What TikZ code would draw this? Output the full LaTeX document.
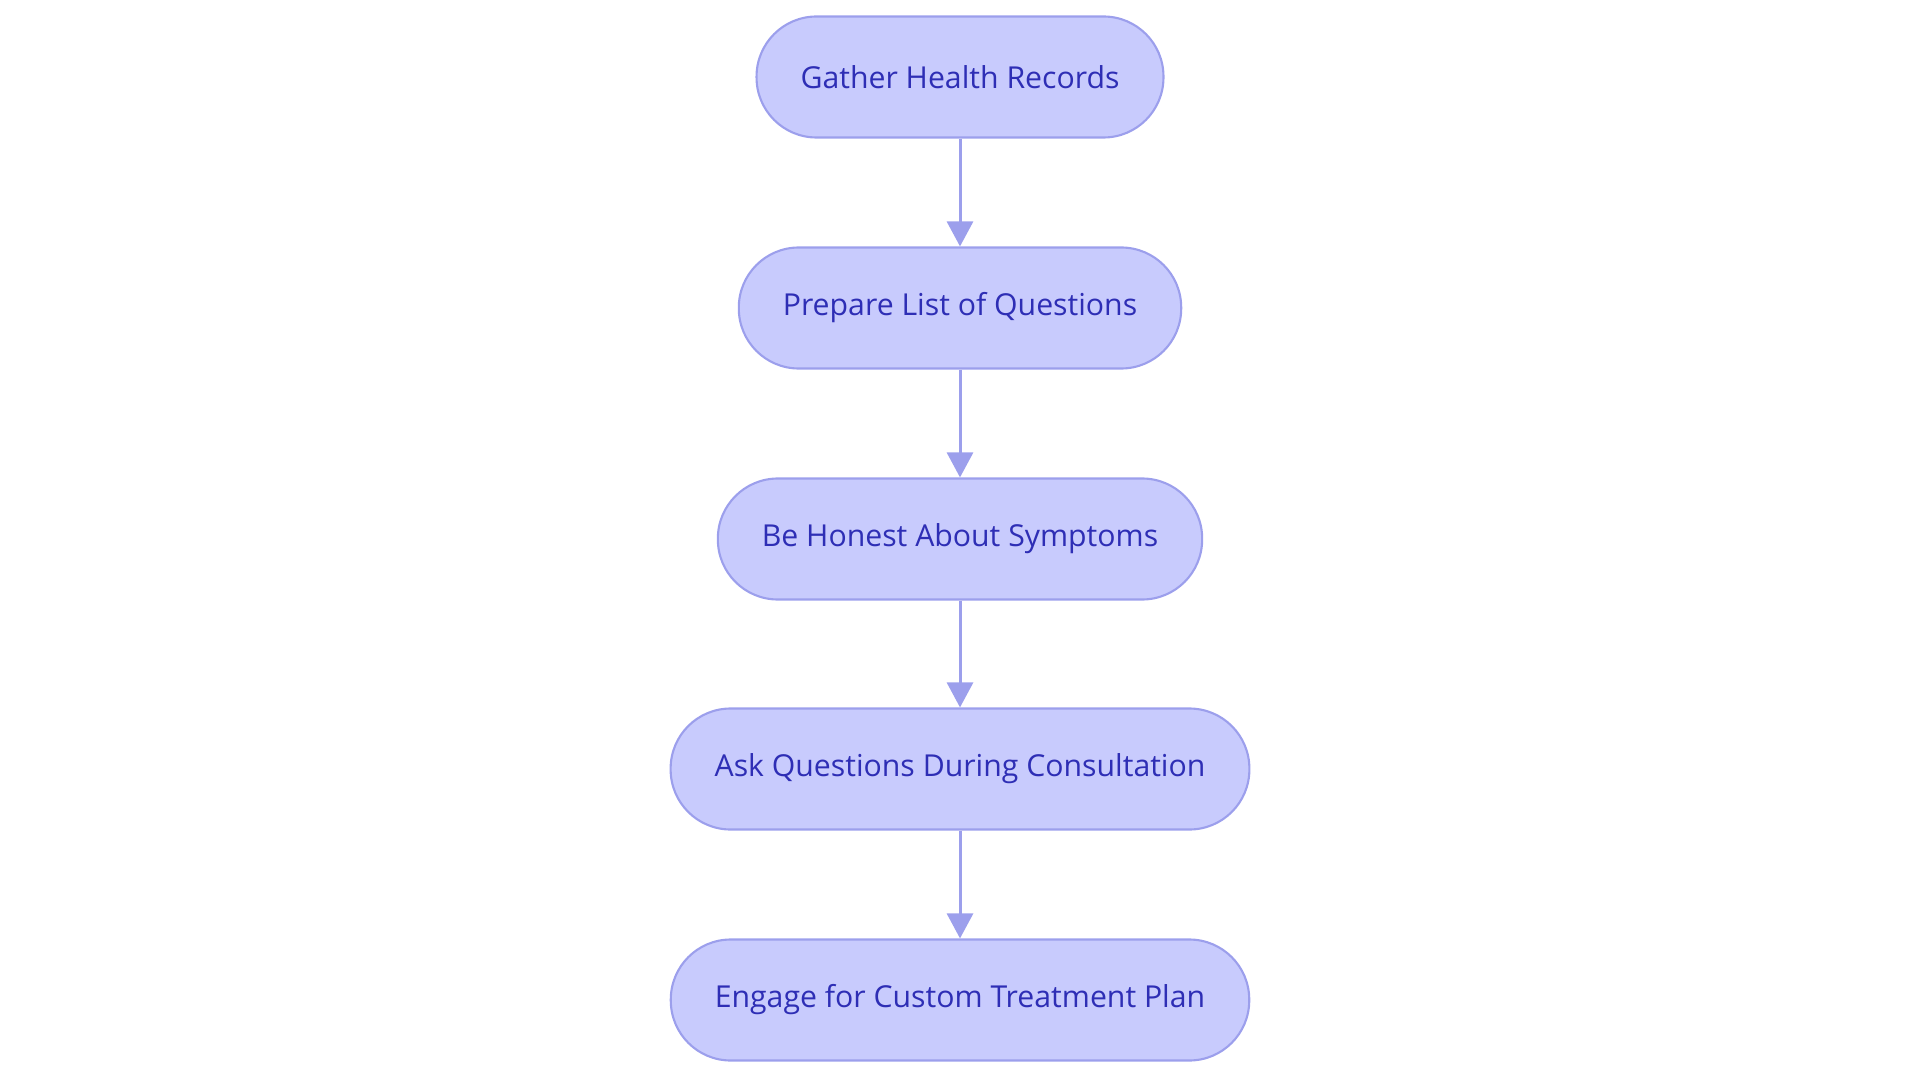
\documentclass[tikz,border=0pt]{standalone}
\usepackage{fontspec}
\setmainfont{Open Sans}
\usetikzlibrary{arrows.meta}
\definecolor{stepfill}{HTML}{C8CBFD}
\definecolor{stepline}{HTML}{9C9FEC}
\definecolor{steptext}{HTML}{2E2EB5}
\begin{document}
\begin{tikzpicture}[x=1cm,y=1cm,
  stepbox/.style={draw=stepline,line width=0.6pt,fill=stepfill,text=steptext,rounded corners=0.6cm,minimum height=1.21cm,inner xsep=0.44cm,font=\fontsize{8.6pt}{10pt}\selectfont},
  flow/.style={draw=stepline,line width=0.85pt,-{Triangle[length=0.25cm,width=0.26cm]}}]
\useasboundingbox (0,0) rectangle (19.2,-10.83);
\node[stepbox] (gather) at (9.6,-0.77){Gather Health Records};
\node[stepbox] (prepare) at (9.6,-3.08){Prepare List of Questions};
\node[stepbox] (honest) at (9.6,-5.39){Be Honest About Symptoms};
\node[stepbox] (ask) at (9.6,-7.69){Ask Questions During Consultation};
\node[stepbox] (engage) at (9.6,-10.0){Engage for Custom Treatment Plan};
\draw[flow] (gather) -- (prepare);
\draw[flow] (prepare) -- (honest);
\draw[flow] (honest) -- (ask);
\draw[flow] (ask) -- (engage);
\end{tikzpicture}
\end{document}
